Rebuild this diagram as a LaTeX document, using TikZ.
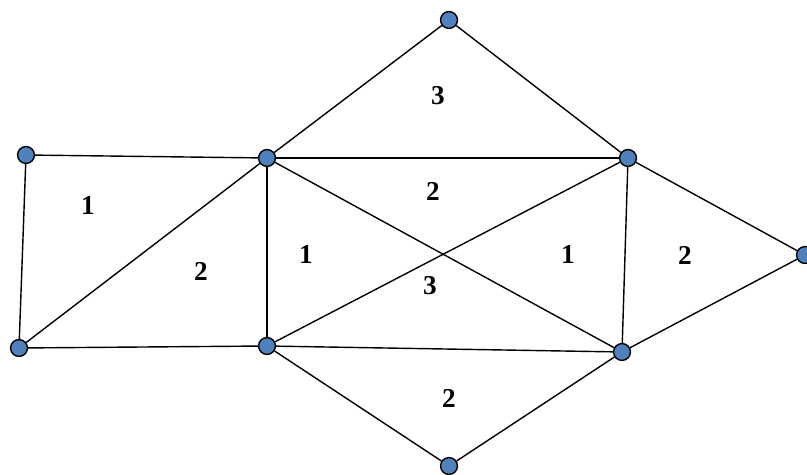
\documentclass[tikz,border=0pt]{standalone}
\usepackage{fontspec}
\setmainfont{Liberation Serif}
\usetikzlibrary{positioning}

\begin{document}
\begin{tikzpicture}[x=0.02cm, y=-0.02cm,
    vert/.style={circle, draw=black, fill={rgb,255:red,79;green,129;blue,189}, line width=0.8pt, minimum size=9.6pt, inner sep=0pt},
    edge/.style={line width=0.8pt},
    weight/.style={font=\fontsize{15.5}{18}\selectfont\bfseries}]
  \useasboundingbox (0,0) rectangle (807,475);
  % vertices
  \node[vert] (top) at (449,20) {};
  \node[vert] (a) at (26,155) {};
  \node[vert] (b) at (267,158) {};
  \node[vert] (c) at (628,158) {};
  \node[vert] (d) at (805,255) {};
  \node[vert] (e) at (19,348) {};
  \node[vert] (f) at (267,346) {};
  \node[vert] (g) at (622,352) {};
  \node[vert] (bot) at (449,466) {};
  % edges
  \draw[edge] (top) -- (b);
  \draw[edge] (top) -- (c);
  \draw[edge] (a) -- (b);
  \draw[edge] (a) -- (e);
  \draw[edge] (e) -- (b);
  \draw[edge] (e) -- (f);
  \draw[edge] (b) -- (f);
  \draw[edge] (b) -- (c);
  \draw[edge] (b) -- (g);
  \draw[edge] (f) -- (c);
  \draw[edge] (f) -- (g);
  \draw[edge] (c) -- (g);
  \draw[edge] (c) -- (d);
  \draw[edge] (d) -- (g);
  \draw[edge] (f) -- (bot);
  \draw[edge] (bot) -- (g);
  % face labels
  \node[weight] (w1) at (438,96) {3};
  \node[weight] (w2) at (88,206) {1};
  \node[weight] (w3) at (433,191) {2};
  \node[weight] (w4) at (306,255) {1};
  \node[weight] (w5) at (201,271) {2};
  \node[weight] (w6) at (568,255) {1};
  \node[weight] (w7) at (685,255) {2};
  \node[weight] (w8) at (430,286) {3};
  \node[weight] (w9) at (449,398) {2};
\end{tikzpicture}
\end{document}
